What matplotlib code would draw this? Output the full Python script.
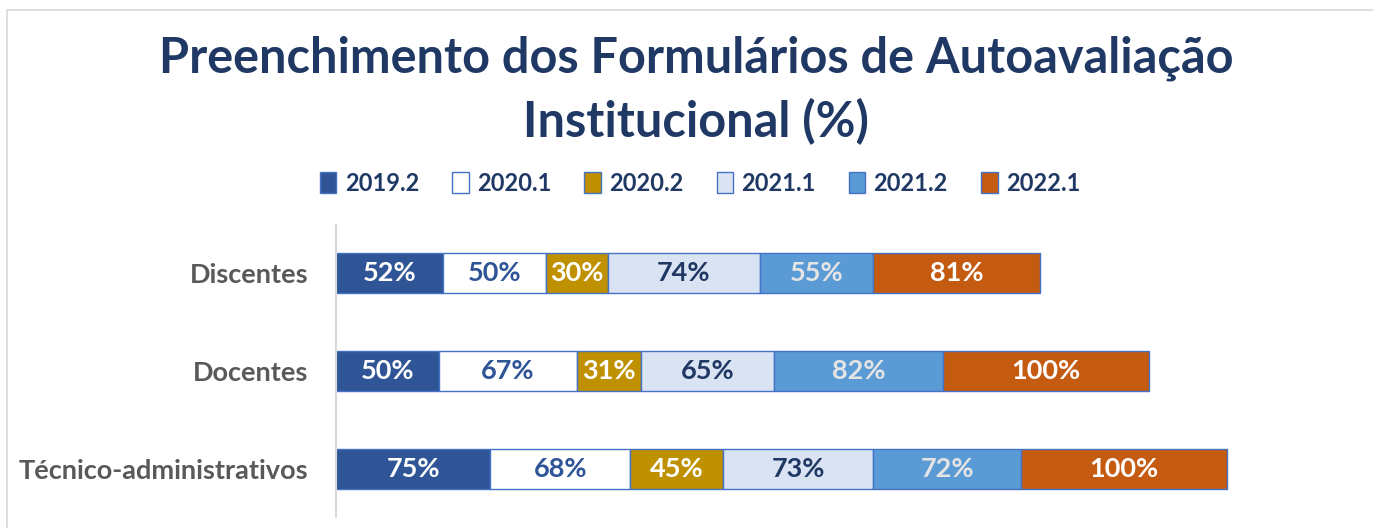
import matplotlib
matplotlib.use("Agg")
import matplotlib.pyplot as plt
from matplotlib.patches import Patch, Rectangle
import numpy as np

plt.rcParams["font.family"] = ["Lato", "DejaVu Sans"]
plt.rcParams["font.weight"] = "bold"

categories = ["Discentes", "Docentes", "Técnico-administrativos"]
periods = ["2019.2", "2020.1", "2020.2", "2021.1", "2021.2", "2022.1"]
values = {
    "2019.2": [52, 50, 75],
    "2020.1": [50, 67, 68],
    "2020.2": [30, 31, 45],
    "2021.1": [74, 65, 73],
    "2021.2": [55, 82, 72],
    "2022.1": [81, 100, 100],
}
fill_colors = ["#2F5597", "#FFFFFF", "#BF9000", "#DAE3F3", "#5B9BD5", "#C55A11"]
label_colors = ["#FFFFFF", "#2F5597", "#FFFFFF", "#1F3864", "#E4E4E4", "#FFFFFF"]
edge = "#4472C4"

W, H = 1373, 528
fig = plt.figure(figsize=(W / 100, H / 100), dpi=100)

# chart-area border (Excel style)
fig.patches.append(Rectangle((7 / W, -0.1), 1.2, 1 - 10 / H + 0.1,
                             transform=fig.transFigure, fill=False,
                             edgecolor="#D9D9D9", linewidth=1.2))

ax = fig.add_axes([336 / W, 11 / H, 1029 / W, 292 / H])

y = np.arange(len(categories))
left = np.zeros(len(categories))
for p, fc, lc in zip(periods, fill_colors, label_colors):
    v = np.array(values[p], dtype=float)
    ax.barh(y, v, left=left, height=0.41, color=fc,
            edgecolor=edge, linewidth=1, label=p)
    for yi, (l, w) in enumerate(zip(left, v)):
        ax.text(l + w / 2, yi, f"{int(w)}%", ha="center", va="center",
                color=lc, fontsize=19.5, fontweight="bold")
    left += v

ax.set_xlim(0, 500)
ax.set_ylim(2.49, -0.49)
ax.set_yticks(y)
ax.set_yticklabels(categories, fontsize=19.5, color="#595959", fontweight="bold")
ax.tick_params(axis="y", length=0, pad=20)
ax.set_xticks([])
for s in ["top", "right", "bottom"]:
    ax.spines[s].set_visible(False)
ax.spines["left"].set_color("#D9D9D9")
ax.spines["left"].set_linewidth(1.5)

fig.text(0.507, 1 - 36 / H,
         "Preenchimento dos Formulários de Autoavaliação\nInstitucional (%)",
         ha="center", va="top", fontsize=35, fontweight="bold",
         color="#1F3864", linespacing=1.42)

handles = [Patch(facecolor=fc, edgecolor=edge, linewidth=1, label=p)
           for p, fc in zip(periods, fill_colors)]
fig.legend(handles=handles, loc="center", bbox_to_anchor=(700 / W, 1 - 183 / H),
           ncol=6, frameon=False, handlelength=0.7,
           handleheight=0.95, handletextpad=0.35, columnspacing=1.4,
           labelcolor="#1F3864", prop={"weight": "bold", "size": 17})

fig.savefig("out.png", dpi=100)
